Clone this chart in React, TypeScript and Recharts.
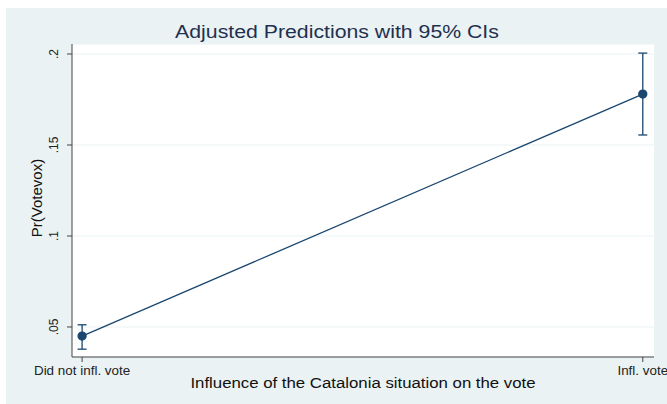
import React from "react";
import { ComposedChart, Line, ErrorBar, XAxis, YAxis, CartesianGrid } from "recharts";

const categories = ["Did not infl. vote", "Infl. vote"];
const positions = [0, 1];
const predicted = [0.045, 0.178];
const lowerCI = [0.0378, 0.1555];
const upperCI = [0.0512, 0.2005];
const yTicks = [0.05, 0.1, 0.15, 0.2];
const yTickLabels = [".05", ".1", ".15", ".2"];

const data = positions.map((x, i) => ({
  x,
  y: predicted[i],
  ci: [predicted[i] - lowerCI[i], upperCI[i] - predicted[i]],
}));

const NAVY = "#1a476f";
const BG = "#eaf2f3";
const FONT = "'Liberation Sans', Arial, sans-serif";
const STRETCH = 1.12;

function YTick({ x, y, payload }: any) {
  const idx = yTicks.indexOf(payload.value);
  return (
    <text
      x={x - 7}
      y={y}
      transform={`rotate(-90 ${x - 7} ${y})`}
      textAnchor="middle"
      fontSize={12}
      fontFamily={FONT}
      fill="#222"
    >
      {idx >= 0 ? yTickLabels[idx] : payload.value}
    </text>
  );
}

function XTick({ x, y, payload }: any) {
  return (
    <text
      transform={`translate(${x} ${y + 11}) scale(${STRETCH} 1)`}
      textAnchor="middle"
      fontSize={12}
      fontFamily={FONT}
      fill="#222"
    >
      {categories[payload.value]}
    </text>
  );
}

export default function App() {
  return (
    <div style={{ position: "absolute", left: 0, top: 0, width: 667, height: 404, background: "#fff" }}>
      <div style={{ position: "absolute", left: 6, top: 8, width: 661, height: 396, background: BG }} />
      <div style={{ position: "absolute", left: 0, top: 0 }}>
        <ComposedChart
          width={667}
          height={404}
          data={data}
          margin={{ top: 44, right: 13, bottom: 0, left: 0 }}
        >
          <CartesianGrid horizontal vertical={false} stroke={BG} fill="#fff" />
          <XAxis
            dataKey="x"
            type="number"
            domain={[-0.018, 1.02]}
            ticks={positions}
            tick={<XTick />}
            tickSize={5}
            height={47}
            axisLine={{ stroke: "#444" }}
            tickLine={{ stroke: "#444" }}
          />
          <YAxis
            type="number"
            domain={[0.0335, 0.2055]}
            ticks={yTicks}
            tick={<YTick />}
            tickSize={5}
            width={72}
            axisLine={{ stroke: "#444" }}
            tickLine={{ stroke: "#444" }}
          />
          <Line
            dataKey="y"
            stroke={NAVY}
            strokeWidth={1.3}
            dot={{ r: 4, fill: NAVY, stroke: NAVY }}
            isAnimationActive={false}
          >
            <ErrorBar dataKey="ci" direction="y" width={4.5} stroke={NAVY} strokeWidth={1.3} />
          </Line>
        </ComposedChart>
      </div>
      <svg
        width={667}
        height={404}
        style={{ position: "absolute", left: 0, top: 0, pointerEvents: "none" }}
      >
        <text
          transform={`translate(337 38) scale(${STRETCH} 1)`}
          textAnchor="middle"
          fontSize={19}
          fontFamily={FONT}
          fill="#1f3050"
        >
          Adjusted Predictions with 95% CIs
        </text>
        <text
          transform={`translate(363 388) scale(${STRETCH} 1)`}
          textAnchor="middle"
          fontSize={15}
          fontFamily={FONT}
          fill="#111"
        >
          Influence of the Catalonia situation on the vote
        </text>
        <text
          transform="translate(42 198) rotate(-90)"
          textAnchor="middle"
          fontSize={15}
          fontFamily={FONT}
          fill="#111"
        >
          Pr(Votevox)
        </text>
      </svg>
    </div>
  );
}
